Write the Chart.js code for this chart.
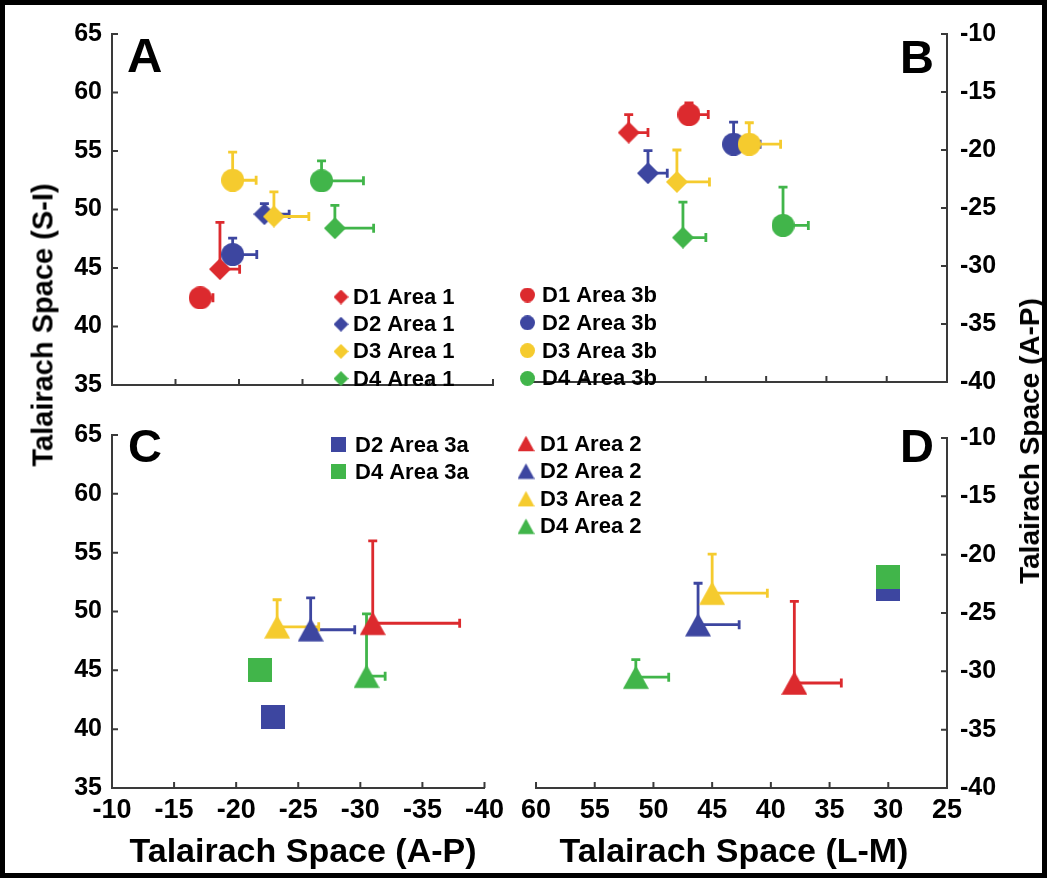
<!DOCTYPE html>
<html>
<head>
<meta charset="utf-8">
<script src="https://cdn.jsdelivr.net/npm/chart.js@4.4.1/dist/chart.umd.min.js"></script>
<style>
  html, body { margin: 0; padding: 0; background: #fff; }
  body { width: 1047px; height: 878px; position: relative; overflow: hidden; font-family: 'Liberation Sans', Arial, sans-serif; }
  canvas { position: absolute; }
  .frame { position: absolute; left: 0; top: 0; width: 1047px; height: 878px; border: 5px solid #000; box-sizing: border-box; }
  .title { position: absolute; font-weight: bold; white-space: nowrap; color: #000; line-height: 1; }
  .vert { transform: translate(-50%, -50%) rotate(-90deg); }
  .horiz { transform: translate(-50%, -50%); }
</style>
</head>
<body>
<canvas id="panelA" width="510" height="410" style="left:0;top:0"></canvas>
<canvas id="panelB" width="532" height="410" style="left:515px;top:0"></canvas>
<canvas id="panelC" width="510" height="468" style="left:0;top:410px"></canvas>
<canvas id="panelD" width="532" height="468" style="left:515px;top:410px"></canvas>

<div class="title vert" style="left:43px;top:325px;font-size:29px">Talairach Space (S-I)</div>
<div class="title vert" style="left:1030px;top:441px;font-size:28px">Talairach Space (A-P)</div>
<div class="title horiz" style="left:303px;top:850px;font-size:34px">Talairach Space (A-P)</div>
<div class="title horiz" style="left:734px;top:850px;font-size:34px">Talairach Space (L-M)</div>
<div class="frame"></div>

<script>
const subjects = ['D1', 'D2', 'D3', 'D4'];
const subjectColors = ['#dc2a2e', '#3d46a0', '#f5cb2e', '#41b54a'];

// tick labels
const apTicks = [-10, -15, -20, -25, -30, -35, -40];
const siTicks = [35, 40, 45, 50, 55, 60, 65];
const lmTicks = [60, 55, 50, 45, 40, 35, 30, 25];

// Area 1 (diamonds), D1..D4
const apArea1 = [-18.5, -22.0, -22.75, -27.55];
const apErrArea1 = [1.55, 1.95, 2.75, 3.05];
const siArea1 = [44.9, 49.6, 49.4, 48.4];
const siErrArea1 = [4.0, 0.9, 2.1, 1.95];
const lmArea1 = [51.4, 49.8, 47.4, 46.9];
const lmErrArea1 = [1.6, 1.6, 2.7, 1.9];

// Area 3b (circles), D1..D4
const apArea3b = [-16.95, -19.5, -19.5, -26.5];
const apErrArea3b = [1.0, 1.9, 1.85, 3.3];
const siArea3b = [42.45, 46.15, 52.5, 52.45];
const siErrArea3b = [0, 1.4, 2.4, 1.7];
const lmArea3b = [46.4, 42.7, 41.4, 38.6];
const lmErrArea3b = [1.6, 2.2, 2.6, 2.1];

// Area 2 (triangles), D1..D4
const apArea2 = [-31.0, -26.0, -23.3, -30.5];
const apErrArea2 = [7.0, 3.55, 3.35, 1.5];
const siArea2 = [49.0, 48.45, 48.7, 44.5];
const siErrArea2 = [7.0, 2.7, 2.3, 5.3];
const lmArea2 = [38.0, 46.2, 45.0, 51.5];
const lmErrArea2 = [4.0, 3.5, 4.7, 2.8];

// Area 3a (squares), only D2 and D4
const area3aSubjects = [1, 3];
const apArea3a = [-22.95, -21.95];
const siArea3a = [41.0, 45.0];
const lmArea3a = [30.0, 30.0];

const FONT = "'Liberation Sans', Arial, sans-serif";
const AXIS_COLOR = '#3a3a3a';

// marker drawn on a small canvas, used as pointStyle and in the legends
function makeMarker(shape, color, size) {
  const c = document.createElement('canvas');
  c.width = size; c.height = size;
  const g = c.getContext('2d');
  const h = size / 2;
  g.fillStyle = color;
  g.beginPath();
  if (shape === 'circle') {
    g.arc(h, h, h, 0, Math.PI * 2);
  } else if (shape === 'diamond') {
    g.moveTo(h, 0); g.lineTo(size, h); g.lineTo(h, size); g.lineTo(0, h);
  } else if (shape === 'square') {
    g.rect(0, 0, size, size);
  } else {
    const th = size * 0.9, top = (size - th) / 2;
    g.moveTo(h, top); g.lineTo(size, top + th); g.lineTo(0, top + th);
  }
  g.closePath();
  g.fill();
  return c;
}

function series(area, shape, size, xs, ys, xErr, yErr, idx) {
  idx = idx || subjects.map((s, i) => i);
  return {
    label: 'Area ' + area,
    data: xs.map((x, i) => ({ x: x, y: ys[i] })),
    names: idx.map(i => subjects[i] + ' Area ' + area),
    colors: idx.map(i => subjectColors[i]),
    pointStyle: idx.map(i => makeMarker(shape, subjectColors[i], size)),
    legendMarks: idx.map(i => makeMarker(shape, subjectColors[i], shape === 'triangle' ? 17 : 15)),
    pointRadius: 10,
    xErr: xErr,
    yErr: yErr
  };
}

// error bars, inward ticks, legends and panel letters
const panelDecor = {
  id: 'panelDecor',
  beforeDatasetsDraw(chart) {
    const ctx = chart.ctx, xs = chart.scales.x, ys = chart.scales.y;
    chart.data.datasets.forEach(ds => {
      if (!ds.xErr) return;
      ds.data.forEach((p, i) => {
        const px = xs.getPixelForValue(p.x), py = ys.getPixelForValue(p.y);
        ctx.save();
        ctx.strokeStyle = ds.colors[i];
        ctx.lineWidth = 2.8;
        ctx.beginPath();
        if (ds.xErr[i] > 0) {
          const ex = xs.getPixelForValue(p.x - ds.xErr[i]);
          ctx.moveTo(px, py); ctx.lineTo(ex, py);
          ctx.moveTo(ex, py - 4.5); ctx.lineTo(ex, py + 4.5);
        }
        if (ds.yErr[i] > 0) {
          const ey = ys.getPixelForValue(p.y + ds.yErr[i]);
          ctx.moveTo(px, py); ctx.lineTo(px, ey);
          ctx.moveTo(px - 4.5, ey); ctx.lineTo(px + 4.5, ey);
        }
        ctx.stroke();
        ctx.restore();
      });
    });
  },
  afterDraw(chart, args, opts) {
    const ctx = chart.ctx;
    ctx.save();
    // ticks pointing into the plot
    ctx.strokeStyle = AXIS_COLOR;
    ctx.lineWidth = 2;
    ctx.beginPath();
    Object.values(chart.scales).forEach(s => {
      s.ticks.forEach(t => {
        const p = s.getPixelForValue(t.value);
        if (s.isHorizontal()) {
          ctx.moveTo(p, s.top); ctx.lineTo(p, s.top - 6);
        } else if (s.position === 'left') {
          ctx.moveTo(s.right, p); ctx.lineTo(s.right + 6, p);
        } else {
          ctx.moveTo(s.left, p); ctx.lineTo(s.left - 6, p);
        }
      });
    });
    ctx.stroke();

    // legend
    const lg = opts.legend;
    const ds = chart.data.datasets[lg.dataset];
    ctx.font = 'bold 22px ' + FONT;
    ctx.textBaseline = 'middle';
    ctx.textAlign = 'left';
    ctx.fillStyle = '#000';
    ds.names.forEach((name, i) => {
      const y = lg.y + i * lg.gap;
      const m = ds.legendMarks[i];
      ctx.drawImage(m, lg.x - m.width / 2, y - m.height / 2);
      ctx.fillText(name, lg.textX, y + 1);
    });

    // panel letter
    ctx.font = 'bold ' + opts.letter.size + 'px ' + FONT;
    ctx.textBaseline = 'alphabetic';
    ctx.fillText(opts.letter.text, opts.letter.x, opts.letter.y);
    ctx.restore();
  }
};

function axis(ticks, position, reverse, showLabels, size, pad) {
  return {
    type: 'linear',
    position: position,
    min: Math.min(...ticks),
    max: Math.max(...ticks),
    reverse: reverse,
    afterBuildTicks: s => { s.ticks = ticks.map(v => ({ value: v })); },
    ticks: {
      display: showLabels,
      color: '#000',
      padding: pad,
      font: { family: FONT, weight: 'bold', size: position === 'bottom' ? 27 : 25 },
      callback: v => String(v)
    },
    grid: { drawOnChartArea: false, drawTicks: false },
    border: { display: true, color: AXIS_COLOR, width: 2 },
    afterFit: s => {
      if (s.isHorizontal()) s.height = size; else s.width = size;
    }
  };
}

function makePanel(id, datasets, padding, xAxis, yAxis, decor) {
  new Chart(document.getElementById(id), {
    type: 'scatter',
    data: { datasets: datasets },
    options: {
      responsive: false,
      animation: false,
      events: [],
      devicePixelRatio: 1,
      layout: { padding: padding, autoPadding: false },
      plugins: {
        legend: { display: false },
        tooltip: { enabled: false },
        panelDecor: decor
      },
      scales: { x: xAxis, y: yAxis }
    },
    plugins: [panelDecor]
  });
}

// A: A-P vs S-I, areas 1 and 3b
makePanel('panelA',
  [
    series('3b', 'circle', 23, apArea3b, siArea3b, apErrArea3b, siErrArea3b),
    series('1', 'diamond', 22, apArea1, siArea1, apErrArea1, siErrArea1)
  ],
  { top: 34, right: 17, left: 0, bottom: 0 },
  axis(apTicks, 'bottom', true, false, 11, 6),
  axis(siTicks, 'left', false, true, 112, 10),
  { legend: { dataset: 1, x: 341, y: 297, gap: 27.2, textX: 353 }, letter: { text: 'A', x: 127, y: 72, size: 49 } }
);

// B: L-M vs A-P, areas 1 and 3b
makePanel('panelB',
  [
    series('3b', 'circle', 23, lmArea3b, apArea3b, lmErrArea3b, apErrArea3b),
    series('1', 'diamond', 22, lmArea1, apArea1, lmErrArea1, apErrArea1)
  ],
  { top: 34, right: 0, left: 10, bottom: 0 },
  axis(lmTicks, 'bottom', true, false, 11, 6),
  axis(apTicks, 'right', false, true, 100, 13),
  { legend: { dataset: 0, x: 12.5, y: 295, gap: 27.8, textX: 27 }, letter: { text: 'B', x: 385, y: 73, size: 47 } }
);

// C: A-P vs S-I, areas 3a and 2
makePanel('panelC',
  [
    series('3a', 'square', 24, apArea3a, siArea3a, null, null, area3aSubjects),
    series('2', 'triangle', 26, apArea2, siArea2, apErrArea2, siErrArea2)
  ],
  { top: 12, right: 15, left: 0, bottom: 0 },
  axis(apTicks, 'bottom', true, true, 90, 6),
  axis(siTicks, 'left', false, true, 112, 10),
  { legend: { dataset: 0, x: 338, y: 34.5, gap: 27.4, textX: 355 }, letter: { text: 'C', x: 128, y: 52, size: 47 } }
);

// D: L-M vs A-P, areas 3a and 2
makePanel('panelD',
  [
    series('3a', 'square', 24, lmArea3a, apArea3a, null, null, area3aSubjects),
    series('2', 'triangle', 26, lmArea2, apArea2, lmErrArea2, apErrArea2)
  ],
  { top: 12, right: 0, left: 17, bottom: 0 },
  axis(lmTicks, 'bottom', true, true, 90, 6),
  axis(apTicks, 'right', false, true, 100, 13),
  { legend: { dataset: 1, x: 11, y: 33.5, gap: 27.6, textX: 25 }, letter: { text: 'D', x: 385, y: 52, size: 47 } }
);
</script>
</body>
</html>
